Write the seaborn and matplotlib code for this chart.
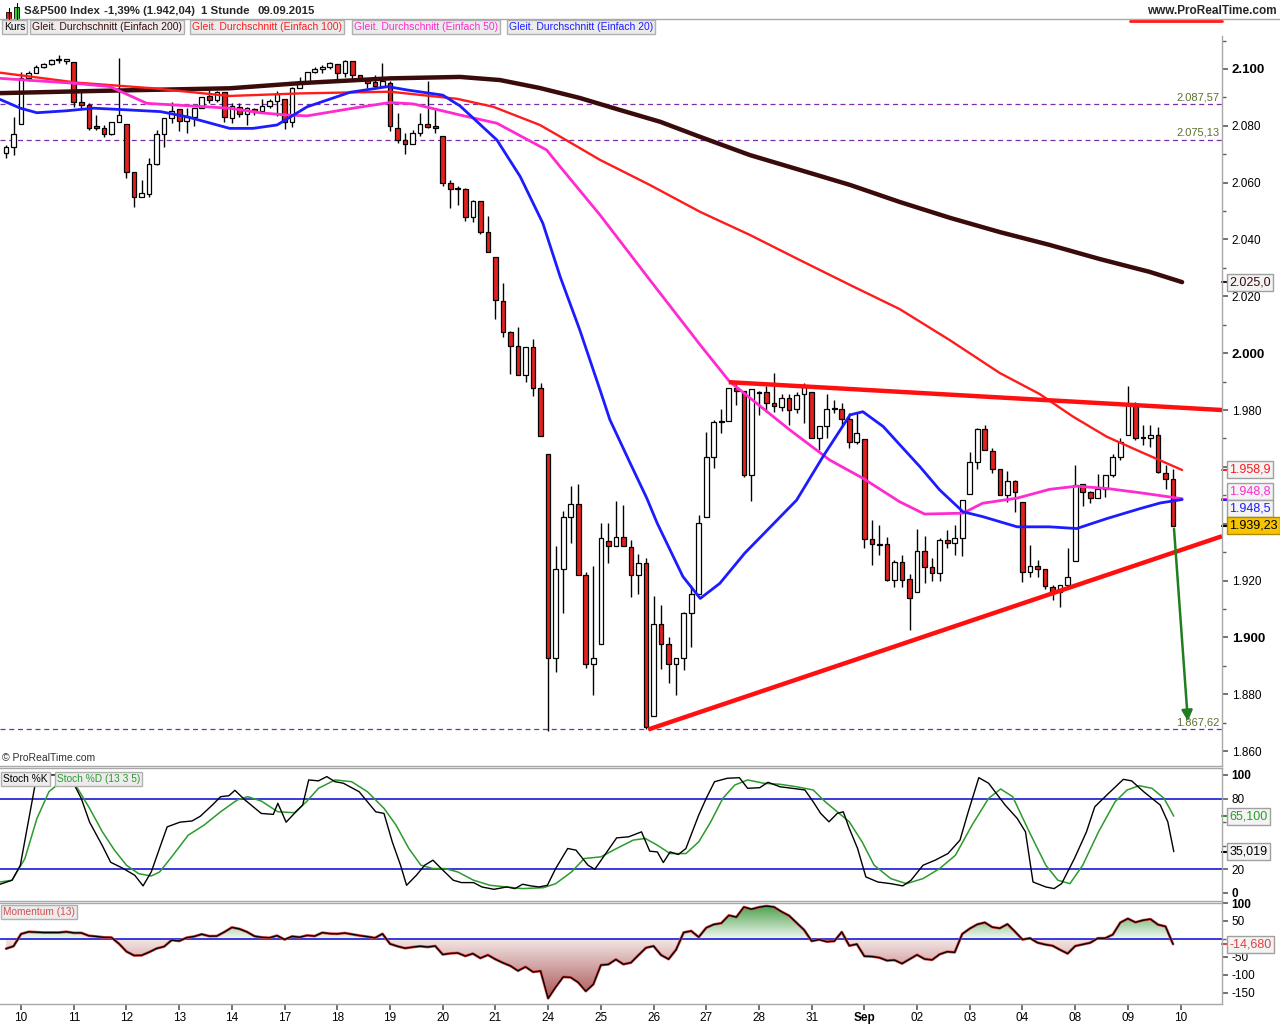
import numpy as np
import pandas as pd
import matplotlib
matplotlib.use("Agg")
import matplotlib.pyplot as plt
import matplotlib.transforms as mtransforms
from matplotlib.patches import Polygon, Rectangle
from matplotlib.lines import Line2D
from matplotlib.colors import LinearSegmentedColormap
import seaborn as sns

sns.set_theme(style="white")
plt.rcParams['font.family'] = ['Liberation Sans', 'DejaVu Sans']

# hourly S&P500 candles, 7 Aug (last 2 bars) .. 9 Sep 2015
opens = [2070.3, 2072.4, 2080.5, 2096.9, 2098.5, 2100.6, 2101.7, 2103.2, 2102.9, 2102.4,
         2088.3, 2087.2, 2079.9, 2079.1, 2077.0, 2081.2, 2080.5, 2063.6, 2054.8, 2056.0,
         2066.5, 2077.0, 2082.6, 2085.8, 2081.7, 2083.2, 2086.2, 2090.5, 2089.0, 2091.8,
         2082.6, 2086.7, 2084.2, 2085.8, 2085.1, 2087.1, 2088.7, 2089.3, 2081.5, 2093.4,
         2095.3, 2099.1, 2099.9, 2100.6, 2101.7, 2098.5, 2102.8, 2097.9, 2096.1, 2095.3,
         2094.1, 2095.2, 2079.1, 2075.0, 2073.5, 2077.4, 2080.5, 2079.9, 2076.4, 2059.8,
         2057.7, 2057.7, 2047.8, 2053.5, 2042.7, 2033.7, 2018.5, 2007.3, 2002.6, 1992.2,
         2002.3, 1987.6, 1964.7, 1892.9, 1924.2, 1942.4, 1946.8, 1922.1, 1890.5, 1897.8,
         1934.0, 1932.1, 1935.4, 1931.8, 1921.9, 1926.0, 1872.4, 1904.6, 1897.8, 1890.8,
         1892.6, 1908.6, 1915.2, 1942.4, 1963.4, 1975.8, 1976.0, 1987.6, 1986.8, 1957.3,
         1986.3, 1986.2, 1982.3, 1981.2, 1984.4, 1980.2, 1985.5, 1986.4, 1970.0, 1974.4,
         1980.2, 1980.5, 1976.7, 1968.6, 1969.7, 1934.5, 1932.7, 1932.7, 1920.1, 1926.6,
         1920.4, 1916.0, 1930.4, 1924.6, 1922.8, 1934.2, 1933.3, 1934.8, 1950.6, 1961.6,
         1973.2, 1965.7, 1959.4, 1950.0, 1955.0, 1947.5, 1923.1, 1925.1, 1923.9, 1917.8,
         1915.8, 1918.4, 1926.9, 1953.8, 1951.0, 1948.9, 1952.1, 1957.1, 1963.3, 1971.2,
         1981.7, 1970.2, 1970.2, 1971.2, 1958.0, 1955.9]
highs = [2073.1, 2083.0, 2098.8, 2099.4, 2101.4, 2102.2, 2103.4, 2104.9, 2103.6, 2102.4,
         2092.4, 2087.9, 2083.8, 2080.3, 2081.4, 2103.8, 2080.5, 2063.6, 2060.9, 2068.8,
         2078.5, 2082.6, 2088.5, 2085.8, 2086.2, 2086.2, 2090.3, 2092.6, 2092.4, 2091.8,
         2087.9, 2087.9, 2086.7, 2086.2, 2089.3, 2089.3, 2092.3, 2089.3, 2093.8, 2097.3,
         2099.1, 2100.8, 2101.4, 2102.6, 2101.7, 2103.2, 2102.8, 2097.9, 2096.7, 2097.9,
         2102.0, 2095.6, 2084.6, 2077.4, 2078.5, 2084.4, 2095.8, 2085.8, 2076.4, 2060.9,
         2058.8, 2058.0, 2053.9, 2053.5, 2048.3, 2033.7, 2024.8, 2007.8, 2009.1, 2002.3,
         2004.9, 1989.4, 1964.7, 1932.1, 1944.4, 1953.2, 1953.9, 1923.0, 1925.1, 1940.1,
         1940.4, 1947.9, 1946.5, 1934.2, 1929.3, 1927.8, 1914.5, 1911.3, 1900.2, 1892.6,
         1909.0, 1918.4, 1943.0, 1972.3, 1976.4, 1980.2, 1987.6, 1989.1, 1986.8, 1987.3,
         1986.8, 1988.4, 1993.2, 1985.5, 1985.8, 1986.2, 1989.4, 1986.4, 1974.4, 1985.8,
         1983.7, 1982.3, 1978.8, 1978.8, 1969.7, 1941.2, 1939.5, 1935.2, 1927.4, 1928.9,
         1922.2, 1938.0, 1935.6, 1928.1, 1934.8, 1937.7, 1939.5, 1948.5, 1965.3, 1973.5,
         1974.7, 1966.5, 1959.4, 1958.6, 1955.3, 1947.5, 1932.4, 1927.4, 1923.9, 1918.4,
         1918.4, 1931.3, 1960.6, 1953.8, 1951.6, 1957.4, 1957.3, 1964.7, 1970.0, 1988.4,
         1982.9, 1974.7, 1974.7, 1973.9, 1960.6, 1959.4]
lows = [2068.6, 2069.7, 2080.5, 2095.9, 2098.5, 2100.4, 2101.4, 2102.2, 2101.8, 2086.7,
        2086.4, 2078.5, 2078.5, 2076.0, 2076.8, 2081.2, 2061.5, 2051.5, 2054.8, 2054.8,
        2066.2, 2072.4, 2081.1, 2078.3, 2077.6, 2079.9, 2086.2, 2088.1, 2088.5, 2081.5,
        2081.1, 2083.2, 2080.2, 2083.8, 2084.6, 2086.2, 2083.5, 2078.8, 2079.7, 2093.2,
        2095.0, 2098.7, 2098.7, 2099.9, 2095.9, 2097.1, 2096.1, 2095.9, 2093.4, 2093.8,
        2094.1, 2078.3, 2073.8, 2070.0, 2073.5, 2076.5, 2079.1, 2077.6, 2058.9, 2051.2,
        2052.1, 2046.6, 2046.3, 2041.9, 2035.5, 2012.0, 2005.8, 1992.6, 1992.2, 1989.9,
        1985.0, 1970.8, 1867.0, 1887.8, 1908.6, 1933.3, 1922.1, 1889.4, 1879.6, 1897.8,
        1926.0, 1932.1, 1932.1, 1914.3, 1915.4, 1867.6, 1872.4, 1889.0, 1883.8, 1879.6,
        1888.7, 1896.6, 1915.2, 1942.4, 1959.7, 1971.8, 1976.0, 1981.7, 1956.5, 1948.0,
        1978.2, 1979.4, 1979.4, 1979.7, 1974.7, 1978.8, 1975.3, 1970.0, 1965.9, 1970.0,
        1979.0, 1974.7, 1966.8, 1968.2, 1931.3, 1925.4, 1928.9, 1919.8, 1917.8, 1917.8,
        1902.5, 1916.0, 1919.2, 1919.9, 1919.9, 1931.3, 1928.9, 1928.7, 1950.6, 1959.1,
        1965.9, 1957.7, 1950.0, 1947.7, 1944.2, 1919.5, 1921.1, 1921.3, 1917.2, 1913.3,
        1910.7, 1918.4, 1926.9, 1946.2, 1947.3, 1948.9, 1949.5, 1956.5, 1962.4, 1971.2,
        1969.4, 1967.6, 1967.0, 1957.7, 1952.1, 1939.2]
closes = [2072.4, 2077.0, 2096.9, 2098.5, 2100.6, 2101.7, 2103.1, 2103.3, 2103.6, 2088.3,
          2087.3, 2079.3, 2079.1, 2077.0, 2081.2, 2083.7, 2063.6, 2054.8, 2056.2, 2066.5,
          2077.0, 2082.6, 2085.3, 2081.7, 2083.0, 2086.2, 2090.3, 2089.1, 2091.9, 2083.0,
          2087.0, 2084.2, 2086.2, 2084.8, 2087.1, 2088.7, 2091.1, 2081.5, 2093.4, 2095.3,
          2099.1, 2100.0, 2100.6, 2102.0, 2098.5, 2102.8, 2097.8, 2096.4, 2095.2, 2094.1,
          2095.9, 2079.9, 2075.0, 2073.5, 2077.4, 2080.5, 2079.7, 2079.1, 2059.8, 2057.7,
          2057.6, 2047.8, 2053.5, 2042.7, 2035.5, 2018.7, 2007.3, 2002.6, 1992.2, 2002.3,
          1987.6, 1970.8, 1892.9, 1924.2, 1942.4, 1946.8, 1922.1, 1890.5, 1892.9, 1934.8,
          1932.1, 1935.4, 1932.1, 1921.9, 1926.0, 1868.5, 1904.6, 1897.8, 1890.8, 1892.6,
          1908.6, 1915.2, 1940.1, 1963.3, 1975.8, 1976.0, 1987.6, 1986.8, 1957.3, 1987.3,
          1986.1, 1982.3, 1981.4, 1984.4, 1980.0, 1985.2, 1988.4, 1970.0, 1974.4, 1980.2,
          1980.8, 1976.7, 1968.6, 1971.8, 1934.5, 1932.7, 1932.6, 1920.1, 1926.6, 1920.1,
          1913.7, 1930.4, 1924.6, 1922.8, 1934.2, 1933.3, 1934.8, 1948.5, 1961.6, 1973.2,
          1965.9, 1959.4, 1950.0, 1955.0, 1951.0, 1923.1, 1925.1, 1923.9, 1918.0, 1916.0,
          1918.4, 1921.1, 1953.6, 1951.0, 1948.9, 1952.1, 1957.3, 1963.3, 1968.8, 1981.7,
          1970.2, 1970.0, 1971.2, 1958.3, 1955.9, 1939.23]

day_start = [2, 9, 16, 23, 30, 37, 44, 51, 58, 65, 72, 79, 86, 93, 100, 107, 114, 121,
             128, 135, 142, 149, 156]
day_labels = ["10", "11", "12", "13", "14", "17", "18", "19", "20", "21", "24", "25", "26",
              "27", "28", "31", "Sep", "02", "03", "04", "08", "09", "10"]

# moving averages (bar index, value)
sma200_x = [-0.8, 12.5, 29.7, 39.0, 51.0, 60.3, 65.6, 70.9, 76.2, 81.5, 86.9, 92.2, 98.8,
            105.4, 112.1, 118.7, 125.4, 132.0, 138.6, 145.3, 151.9, 156.2]
sma200 = [2091.5, 2092.3, 2093.2, 2095.0, 2096.7, 2097.2, 2096.1, 2093.3, 2089.8, 2085.6,
          2081.4, 2076.1, 2069.7, 2064.5, 2059.2, 2053.2, 2047.6, 2042.6, 2038.1, 2033.1,
          2028.6, 2025.0]
sma100_x = [-0.8, 9.4, 19.5, 29.7, 39.0, 51.0, 59.9, 64.7, 70.9, 73.6, 78.9, 85.5, 92.2,
            98.8, 105.4, 112.1, 118.7, 125.4, 132.0, 137.3, 141.7, 146.2, 150.6, 156.2]
sma100 = [2098.7, 2095.2, 2093.2, 2090.5, 2091.4, 2092.0, 2089.5, 2086.7, 2080.3, 2076.2,
          2068.0, 2059.2, 2049.7, 2041.6, 2032.8, 2024.0, 2015.5, 2004.5, 1993.0, 1985.6,
          1977.7, 1970.6, 1965.4, 1958.9]
sma50_x = [-0.8, 8.9, 13.8, 18.7, 29.7, 33.7, 37.3, 40.0, 46.1, 51.0, 54.1, 60.3, 65.2,
           71.8, 73.6, 78.9, 85.5, 92.2, 96.1, 104.1, 109.4, 113.8, 118.7, 122.0, 127.1,
           129.7, 134.3, 138.6, 142.2, 146.2, 150.6, 156.2]
sma50 = [2096.7, 2095.0, 2093.8, 2087.9, 2086.2, 2084.6, 2083.8, 2083.5, 2086.2, 2088.2,
         2087.7, 2083.8, 2080.9, 2071.5, 2065.6, 2048.6, 2025.8, 2002.9, 1990.0, 1973.0,
         1962.4, 1956.0, 1947.7, 1943.4, 1943.7, 1947.2, 1949.0, 1952.1, 1953.2, 1952.4,
         1950.9, 1948.8]
sma20_x = [-0.8, 1.9, 4.1, 8.1, 11.6, 14.7, 20.5, 24.0, 29.7, 32.8, 36.0, 40.0, 45.7, 50.7,
           53.3, 58.0, 60.3, 65.2, 68.3, 71.3, 73.6, 76.2, 78.9, 80.2, 82.9, 85.1, 86.5,
           89.9, 92.2, 94.8, 98.1, 105.0, 108.5, 112.1, 113.8, 116.5, 118.7, 121.4, 124.0,
           127.1, 129.7, 134.3, 138.6, 142.2, 146.2, 150.6, 153.3, 156.2]
sma20 = [2089.3, 2086.2, 2084.6, 2085.3, 2086.2, 2085.8, 2085.0, 2083.2, 2079.1, 2079.1,
         2080.3, 2086.7, 2091.8, 2093.8, 2092.6, 2090.8, 2087.0, 2075.0, 2062.1, 2045.7,
         2026.9, 2008.2, 1987.0, 1976.6, 1961.3, 1949.0, 1940.1, 1921.4, 1913.7, 1919.0,
         1929.6, 1948.3, 1963.6, 1978.3, 1979.4, 1974.2, 1967.8, 1960.0, 1951.9, 1944.2,
         1942.5, 1938.9, 1938.9, 1938.3, 1941.8, 1945.3, 1947.3, 1948.5]

# stochastic (13 3 5)
stoch_k_x = [-0.8, 0.8, 1.9, 4.1, 8.4, 10.0, 11.1, 12.8, 13.9, 15.5, 17.1, 18.2, 19.3, 20.4,
             21.4, 23.1, 24.7, 25.8, 27.4, 28.5, 29.6, 30.4, 31.7, 33.9, 35.5, 36.1, 37.2,
             38.3, 39.4, 40.2, 41.5, 42.6, 43.7, 44.8, 46.9, 49.1, 50.2, 51.3, 52.4, 53.2,
             54.5, 55.6, 56.7, 57.8, 59.4, 60.5, 62.1, 63.2, 64.8, 66.5, 67.6, 68.6, 69.7,
             70.8, 71.9, 73.0, 74.6, 75.7, 77.3, 78.2, 79.5, 81.1, 82.7, 84.4, 85.5, 86.5,
             87.3, 88.2, 89.3, 90.3, 92.0, 93.0, 94.1, 95.8, 97.4, 98.5, 100.1, 101.2, 102.8,
             104.4, 106.1, 107.2, 108.2, 109.3, 110.4, 111.2, 112.0, 113.1, 114.2, 115.8,
             117.5, 119.1, 120.2, 121.8, 123.4, 125.1, 126.7, 127.8, 129.2, 130.5, 132.7,
             134.3, 135.4, 136.4, 138.1, 139.2, 140.2, 141.9, 143.5, 144.6, 146.2, 148.4,
             149.5, 151.1, 153.3, 154.3, 155.1]
stoch_k = [7.4, 10.8, 23.5, 100, 100, 80, 60, 40, 26, 21, 15, 6, 18, 38, 56, 60, 61, 65,
           74.5, 81.6, 82.4, 87, 79, 67.4, 66.6, 76, 60, 67.4, 74.5, 95.8, 95, 98.6, 94.3, 93,
           85.8, 68.8, 67.4, 43.3, 23.5, 6.5, 15, 23.5, 27.8, 20.7, 10.8, 8.8, 8.8, 5.1, 3.1,
           5.1, 3.7, 7.4, 6, 5.1, 6.5, 20.7, 37.7, 36.3, 23.5, 20.1, 32, 46.7, 47.6, 51.8,
           35.4, 34.8, 25.8, 34.8, 32.6, 37.7, 66, 80.2, 94.3, 97.2, 97.7, 88.7, 89.2, 93.8,
           90, 88.7, 87.3, 77.3, 67.4, 60.3, 67.4, 68.8, 54.7, 37.7, 13.6, 9.3, 7.9, 6, 10.8,
           23.5, 27.8, 33.4, 44.8, 68.8, 97.7, 93, 74.5, 63.2, 51.8, 9.3, 5.1, 3.7, 7.9, 29.2,
           51.8, 73, 83, 96.3, 95, 85.8, 74.5, 60.3, 35.019]
stoch_d_x = [-0.8, 0.8, 2.5, 4.1, 5.7, 7.3, 8.4, 9.5, 11.1, 12.8, 14.4, 16.0, 17.6, 19.3,
             20.4, 22.0, 24.2, 26.3, 28.5, 30.7, 32.1, 33.9, 36.1, 38.3, 39.9, 41.5, 43.7,
             45.9, 48.0, 50.2, 51.8, 53.5, 55.1, 56.7, 58.3, 60.0, 62.1, 64.3, 66.5, 68.6,
             71.4, 73.0, 75.1, 76.8, 79.0, 81.1, 83.3, 84.9, 86.5, 88.2, 90.3, 92.0, 93.6,
             95.2, 96.8, 98.5, 100.6, 102.8, 105.0, 107.2, 108.8, 110.4, 112.0, 113.7, 115.3,
             117.5, 119.6, 121.8, 124.0, 126.1, 128.3, 130.5, 132.1, 133.7, 135.9, 138.1,
             139.7, 141.3, 143.0, 145.1, 147.3, 148.9, 150.5, 152.2, 153.8, 155.1]
stoch_d = [9.3, 10.8, 29, 63, 85.8, 94.3, 94.3, 88.7, 71.7, 51.8, 36.3, 23.5, 16.4, 14.4,
           17.8, 30.6, 49, 57.5, 68.8, 78.8, 81.6, 77.9, 68.8, 68, 77.3, 88.7, 95.8, 94.3,
           85.8, 71.7, 57.5, 37.7, 23.5, 20.7, 20.7, 17.8, 10.8, 6.5, 5.1, 3.7, 4.5, 7.9, 17.8,
           29.2, 30.6, 37.7, 44.8, 46.2, 40.5, 33.4, 33.4, 43.3, 60.3, 80.2, 91.5, 95.8, 93,
           92.1, 90, 87.3, 77.3, 68.8, 60.3, 43.3, 23.5, 12.2, 7.9, 12.2, 20.7, 32, 57.5,
           80.2, 88.1, 81.6, 51.8, 23.5, 10.8, 7.9, 23.5, 51.8, 77.3, 87.3, 90.9, 88.7, 80.2,
           65.1]

# momentum(13) of the first 13 bars (earlier closes not on the chart)
momentum_head = [-27, -20, 14, 20, 19, 18, 18, 18, 20, 17, 17, 9, 7]

df = pd.DataFrame({"open": opens, "high": highs, "low": lows, "close": closes})
df["i"] = np.arange(len(df))
mom = np.array(momentum_head + list(df["close"].diff(13).iloc[13:]))

RED = "#e3211f"
GRID = "#a8a8a8"
W, H = 1280, 1024

fig = plt.figure(figsize=(12.8, 10.24), dpi=100, facecolor="white")


def rect(x0, y0, x1, y1):
    return [x0 / W, 1 - y1 / H, (x1 - x0) / W, (y1 - y0) / H]


ax = fig.add_axes(rect(0, 36, 1222, 766))
ax_st = fig.add_axes(rect(0, 768, 1222, 901), sharex=ax)
ax_mo = fig.add_axes(rect(0, 903, 1222, 1004), sharex=ax)

for a in (ax, ax_st, ax_mo):
    a.set_facecolor("white")
    for s in a.spines.values():
        s.set_color(GRID)
        s.set_linewidth(1)
    a.spines["left"].set_visible(False)
    a.yaxis.tick_right()
    a.tick_params(axis="y", which="both", direction="out", colors="#606060",
                  labelcolor="black", labelsize=8.5, pad=3)
    a.tick_params(axis="y", which="major", length=4)
    a.tick_params(axis="y", which="minor", length=3)
    a.grid(False)

# ---- price panel ----
up = df["close"] >= df["open"]
ax.vlines(df["i"], df["low"], df["high"], color="black", lw=1, zorder=3)
body = (df["close"] - df["open"]).abs().clip(lower=0.35)
ax.bar(df["i"], body, bottom=np.minimum(df["open"], df["close"]), width=0.62,
       color=np.where(up, "white", RED), edgecolor="black", linewidth=0.9, zorder=4)

sns.lineplot(x=sma200_x, y=sma200, ax=ax, color="#3a0b0b", lw=3.2, zorder=5)
sns.lineplot(x=sma100_x, y=sma100, ax=ax, color="#ff1c1c", lw=1.7, zorder=5)
sns.lineplot(x=sma50_x, y=sma50, ax=ax, color="#ff2bd0", lw=2.0, zorder=5)
sns.lineplot(x=sma20_x, y=sma20, ax=ax, color="#1c1cff", lw=2.0, zorder=5)

for lvl in (2087.57, 2075.13, 1867.62):
    ax.axhline(lvl, color="#7a2fa8", lw=0.9, ls=(0, (4, 3)), zorder=2)

# triangle trendlines and target arrow
ax.plot([96, 161.5], [1989.8, 1980.0], color="#ff1010", lw=3.2, zorder=6,
        solid_capstyle="butt")
ax.plot([85.3, 161.5], [1867.6, 1935.6], color="#ff1010", lw=3.2, zorder=6,
        solid_capstyle="butt")
ax.annotate("", xy=(157.0, 1869.5), xytext=(155.1, 1939.2),
            arrowprops=dict(arrowstyle="-|>", color="#1f7f1f", lw=1.8,
                            mutation_scale=16), zorder=7)

ax.set_xlim(-0.8, 161.5)
ax.set_ylim(1854.75, 2111.6)
major = np.arange(1860, 2101, 20)
ax.set_yticks(major)
ax.set_yticks(np.arange(1860, 2111, 10), minor=True)
ax.set_yticklabels(["" if v in (1940, 1960) else f"{v / 1000:.3f}" for v in major])
for lab, v in zip(ax.get_yticklabels(), major):
    if v % 100 == 0:
        lab.set_fontweight("bold")
        lab.set_fontsize(9.5)
ax.tick_params(axis="x", which="both", bottom=False, labelbottom=False)
ax.spines["top"].set_visible(False)

trans = mtransforms.blended_transform_factory(ax.transAxes, ax.transData)
for lvl, txt in ((2087.57, "2.087,57"), (2075.13, "2.075,13"), (1867.62, "1.867,62")):
    ax.text(0.998, lvl + 0.6, txt, transform=trans, ha="right", va="bottom",
            fontsize=8, color="#5d7030", zorder=8)


def value_box(a, tr, y_tick, y_box, txt, tc, fc="#f3f3f3", ec="#a0a0a0"):
    a.plot([1.0, 1.006], [y_tick, y_tick], transform=tr, color=tc, lw=1.5, clip_on=False)
    a.text(1.006, y_box, txt, transform=tr, ha="left", va="center", fontsize=9, color=tc,
           bbox=dict(boxstyle="square,pad=0.2", fc=fc, ec=ec, lw=1), clip_on=False,
           zorder=10)


value_box(ax, trans, 2025.0, 2025.0, "2.025,0", "#3a0b0b")
value_box(ax, trans, 1958.9, 1958.9, "1.958,9", "#ff1c1c")
value_box(ax, trans, 1948.8, 1951.2, "1.948,8", "#ff2bd0")
value_box(ax, trans, 1948.5, 1945.5, "1.948,5", "#1c1cff")
value_box(ax, trans, 1939.23, 1939.23, "1.939,23", "black", fc="#f6c400", ec="#b08c00")

ax.text(0.002, 0.004, "\u00a9 ProRealTime.com", transform=ax.transAxes, fontsize=7.5,
        color="#303030", va="bottom")

# ---- stochastic panel ----
ax_st.axhline(80, color="#2a2ad8", lw=1.3, zorder=1)
ax_st.axhline(20, color="#2a2ad8", lw=1.3, zorder=1)
sns.lineplot(x=stoch_d_x, y=stoch_d, ax=ax_st, color="#2c9a2c", lw=1.1, zorder=3)
sns.lineplot(x=stoch_k_x, y=stoch_k, ax=ax_st, color="black", lw=1.0, zorder=4)
ax_st.set_ylim(-6.8, 105.9)
ax_st.set_yticks([0, 20, 80, 100])
ax_st.set_yticks([40, 60], minor=True)
ax_st.set_yticklabels(["0", "20", "80", "100"])
ax_st.get_yticklabels()[3].set_fontweight("bold")
ax_st.get_yticklabels()[0].set_fontweight("bold")
ax_st.tick_params(axis="x", which="both", bottom=False, labelbottom=False)
ax_st.set_ylabel("")
tr_st = mtransforms.blended_transform_factory(ax_st.transAxes, ax_st.transData)
value_box(ax_st, tr_st, 65.1, 65.1, "65,100", "#2c9a2c")
value_box(ax_st, tr_st, 35.019, 35.019, "35,019", "black")
leg_box = dict(boxstyle="square,pad=0.2", fc="#ececec", ec="#b0b0b0", lw=1)
ax_st.text(3 / 1222, 0.955, "Stoch %K", transform=ax_st.transAxes, fontsize=7.3, va="top",
           color="black", bbox=leg_box, zorder=10)
ax_st.text(57 / 1222, 0.955, "Stoch %D (13 3 5)", transform=ax_st.transAxes,
           fontsize=7.3, va="top", color="#2c9a2c", bbox=leg_box, zorder=10)

# ---- momentum panel ----
xi = df["i"].to_numpy(dtype=float)
green = LinearSegmentedColormap.from_list("g", ["#f2f9f2", "#3f9a3f"])
reds = LinearSegmentedColormap.from_list("r", ["#f4e6e6", "#a24848"])
for part, cm, ext in ((np.maximum(mom, 0), green, (0, 100)),
                      (np.minimum(mom, 0), reds, (-180, 0))):
    verts = list(zip(xi, part)) + [(xi[-1], 0), (xi[0], 0)]
    poly = Polygon(verts, closed=True, fc="none", ec="none")
    ax_mo.add_patch(poly)
    grad = np.linspace(0, 1, 256).reshape(-1, 1)
    if ext[0] < 0:
        grad = grad[::-1]
    im = ax_mo.imshow(grad, extent=[xi[0], xi[-1], ext[0], ext[1]], origin="lower",
                      cmap=cm, aspect="auto", zorder=1)
    im.set_clip_path(poly)
ax_mo.axhline(0, color="#2a2ad8", lw=1.3, zorder=2)
sns.lineplot(x=xi, y=mom, ax=ax_mo, color="#e05050", lw=2.0, zorder=3)
sns.lineplot(x=xi, y=mom, ax=ax_mo, color="black", lw=1.0, zorder=4)
ax_mo.set_xlim(-0.8, 161.5)
ax_mo.set_ylim(-180.6, 100)
mticks = [-150, -100, -50, 50, 100]
ax_mo.set_yticks(mticks)
ax_mo.set_yticks([0], minor=True)
ax_mo.set_yticklabels([str(v) for v in mticks])
ax_mo.get_yticklabels()[4].set_fontweight("bold")
tr_mo = mtransforms.blended_transform_factory(ax_mo.transAxes, ax_mo.transData)
value_box(ax_mo, tr_mo, -14.68, -14.68, "-14,680", "#e04040")
ax_mo.text(3 / 1222, 0.96, "Momentum (13)", transform=ax_mo.transAxes, fontsize=7.3,
           va="top", color="#d05050", bbox=leg_box, zorder=10)

ax_mo.set_xticks(day_start)
ax_mo.set_xticklabels(day_labels)
for lab in ax_mo.get_xticklabels():
    if lab.get_text() == "Sep":
        lab.set_fontweight("bold")
ax_mo.tick_params(axis="x", which="major", bottom=True, direction="out", length=4,
                  colors="#606060", labelcolor="black", labelsize=8.5, pad=2)
ax_mo.set_ylabel("")

# ---- header ----
def ftext(x, y, s, **kw):
    fig.text(x / W, 1 - y / H, s, va="center", **kw)


fig.add_artist(Line2D([0, 1], [1 - 19 / H, 1 - 19 / H], color=GRID, lw=1))
fig.add_artist(Line2D([1130 / W, 1222 / W], [1 - 21 / H, 1 - 21 / H], color="#ff1c1c",
                      lw=2))
fig.add_artist(Line2D([8.5 / W, 8.5 / W], [1 - 24 / H, 1 - 8 / H], color="black", lw=0.8))
fig.add_artist(Rectangle((6 / W, 1 - 21 / H), 5 / W, 9 / H, fc=RED, ec="black", lw=0.6))
fig.add_artist(Line2D([16.5 / W, 16.5 / W], [1 - 22 / H, 1 - 3 / H], color="black", lw=0.8))
fig.add_artist(Rectangle((14 / W, 1 - 19 / H), 5 / W, 12 / H, fc="#3cd23c", ec="black",
                         lw=0.6))
ftext(24, 11, "S&P500 Index", fontsize=8.2, fontweight="bold")
ftext(104, 11, "-1,39% (1.942,04)", fontsize=8.2, fontweight="bold")
ftext(201, 11, "1 Stunde", fontsize=8.2, fontweight="bold")
ftext(258, 11, "09.09.2015", fontsize=8.2, fontweight="bold")
ftext(1277, 11, "www.ProRealTime.com", fontsize=8.5, fontweight="bold", ha="right")

legend_items = [(4, "Kurs", "black"),
                (32, "Gleit. Durchschnitt (Einfach 200)", "#3a0b0b"),
                (192, "Gleit. Durchschnitt (Einfach 100)", "#ff1c1c"),
                (354, "Gleit. Durchschnitt (Einfach 50)", "#ff2bd0"),
                (509, "Gleit. Durchschnitt (Einfach 20)", "#1c1cff")]
for x, s, c in legend_items:
    ftext(x, 27, s, fontsize=7.5, color=c, bbox=leg_box)

fig.savefig("out.png", dpi=100, facecolor="white")
